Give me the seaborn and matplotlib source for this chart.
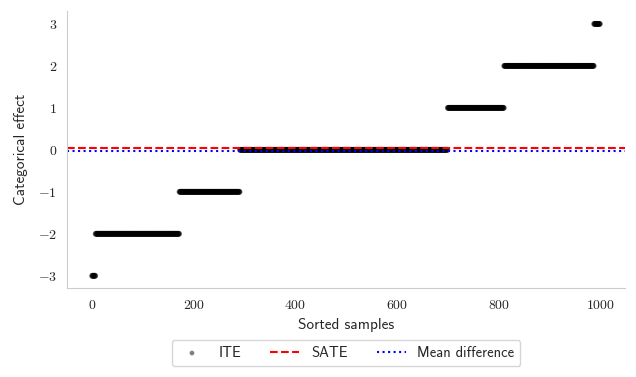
import numpy as np
import pandas as pd
import matplotlib
matplotlib.use("Agg")
import matplotlib.pyplot as plt
from matplotlib.ticker import FuncFormatter
import seaborn as sns

# categorical ITE levels and how many sorted samples sit at each level
ite_levels = [-3, -2, -1, 0, 1, 2, 3]
ite_counts = [7, 165, 119, 409, 111, 177, 12]
sate = 0.04
mean_diff = -0.025

sns.set_style("white", {"axes.edgecolor": ".8"})
plt.rcParams["mathtext.fontset"] = "cm"
plt.rcParams["font.family"] = ["cmss10", "DejaVu Sans"]

ite = np.repeat(ite_levels, ite_counts)
df = pd.DataFrame({"sample": np.arange(len(ite)), "ite": ite})

fig = plt.figure(figsize=(6.36, 3.77), dpi=100)
ax = fig.add_axes([0.105, 0.235, 0.878, 0.735])

sns.scatterplot(data=df, x="sample", y="ite", color="black", alpha=0.5,
                s=18, edgecolor="none", label="ITE", ax=ax)
ax.axhline(sate, color="red", linestyle="--", linewidth=1.5, label="SATE")
ax.axhline(mean_diff, color="blue", linestyle=":", linewidth=1.5, label="Mean difference")

# serif (computer modern) tick labels like a latex render
cm_fmt = FuncFormatter(lambda v, pos: "$%g$" % v)
ax.xaxis.set_major_formatter(cm_fmt)
ax.yaxis.set_major_formatter(cm_fmt)

ax.set_xlabel("Sorted samples", fontsize=11)
ax.set_ylabel("Categorical effect", fontsize=11, labelpad=7)
ax.set_yticks(ite_levels)
ax.tick_params(labelsize=10)
sns.despine(ax=ax)

ax.legend(loc="upper center", bbox_to_anchor=(0.5, -0.16), ncol=3,
          fontsize=10.5, frameon=True, markerscale=0.8)

fig.savefig("out.png", dpi=100)
